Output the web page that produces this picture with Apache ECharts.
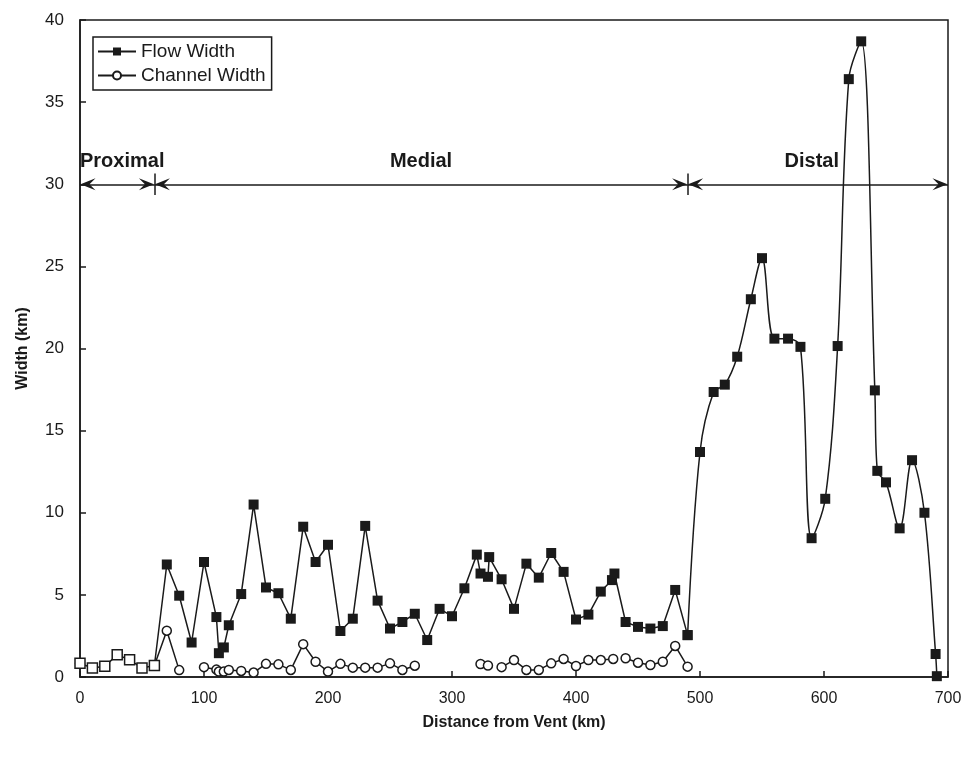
<!DOCTYPE html>
<html>
<head>
<meta charset="utf-8">
<script src="https://cdn.jsdelivr.net/npm/echarts@6/dist/echarts.min.js"></script>
<style>
  html, body { margin: 0; padding: 0; background: #fff; }
  #chart { width: 967px; height: 757px; }
</style>
</head>
<body>
<div id="chart"></div>
<script>
// proximal part of the flow (open squares)
const proximalDist  = [0, 10, 20, 30, 40, 50, 60];
const proximalWidth = [0.83, 0.55, 0.65, 1.35, 1.05, 0.55, 0.7];

// medial part of the flow (straight segments)
const medialDist  = [70, 80, 90, 100, 110, 112, 116, 120, 130, 140,
                     150, 160, 170, 180, 190, 200, 210, 220, 230, 240,
                     250, 260, 270, 280, 290, 300, 310, 320, 323, 329,
                     330, 340, 350, 360, 370, 380, 390, 400, 410, 420,
                     429, 431, 440, 450, 460, 470, 480, 490];
const medialWidth = [6.85, 4.95, 2.1, 7.0, 3.65, 1.45, 1.8, 3.15, 5.05, 10.5,
                     5.45, 5.1, 3.55, 9.15, 7.0, 8.05, 2.8, 3.55, 9.2, 4.65,
                     2.95, 3.35, 3.85, 2.25, 4.15, 3.7, 5.4, 7.45, 6.3, 6.1,
                     7.3, 5.95, 4.15, 6.9, 6.05, 7.55, 6.4, 3.5, 3.8, 5.2,
                     5.9, 6.3, 3.35, 3.05, 2.95, 3.1, 5.3, 2.55];

// distal part of the flow (smoothed)
const distalDist  = [490, 500, 511, 520, 530, 541, 550, 560, 571, 581,
                     590, 601, 611, 620, 630, 641, 643, 650, 661, 671,
                     681, 690, 691];
const distalWidth = [2.55, 13.7, 17.35, 17.8, 19.5, 23.0, 25.5, 20.6, 20.6, 20.1,
                     8.45, 10.85, 20.15, 36.4, 38.7, 17.45, 12.55, 11.85, 9.05, 13.2,
                     10.0, 1.4, 0.05];

// channel width, null = gap in the line
const channelDist  = [0, 30, 60, 70, 80, 90, 100, 110, 112, 116, 120, 130, 140,
                      150, 160, 170, 180, 190, 200, 210, 220, 230, 240, 250, 260, 270,
                      300, 323, 329, 335, 340, 350, 360, 370, 380, 390, 400, 410, 420, 430,
                      435, 440, 450, 460, 470, 480, 490];
const channelWidth = [0.83, null, 0.7, 2.82, 0.42, null, 0.6, 0.45, 0.33, 0.33, 0.43, 0.37, 0.27,
                      0.8, 0.77, 0.43, 2.0, 0.93, 0.33, 0.8, 0.57, 0.57, 0.57, 0.83, 0.43, 0.69,
                      null, 0.79, 0.7, null, 0.6, 1.03, 0.43, 0.43, 0.83, 1.1, 0.67, 1.03, 1.03, 1.1,
                      null, 1.14, 0.87, 0.73, 0.93, 1.89, 0.63];

// zones along the top
const zoneNames = ['Proximal', 'Medial', 'Distal'];
const zoneEdges = [0, 60, 490, 700];
const zoneLabelShift = [5, 0, -6]; // px, nudges the names like in the original
const zoneLevel = 30;

const black = '#1a1a1a';

const chart = echarts.init(document.getElementById('chart'));

// flow data: proximal points are open squares
const flowData = [];
proximalDist.forEach((d, i) => {
    flowData.push({
        value: [d, proximalWidth[i]],
        itemStyle: { color: '#fff', borderColor: black, borderWidth: 1.5 }
    });
});
medialDist.forEach((d, i) => flowData.push([d, medialWidth[i]]));

const distalData = distalDist.map((d, i) => [d, distalWidth[i]]);

const channelData = channelDist.map((d, i) => {
    const w = channelWidth[i];
    if (w === null) return [d, '-'];
    if (d === 60) return { value: [d, w], symbol: 'none' };
    return [d, w];
});

// arrow head with its tip in the middle of the symbol box
// (the tiny piece at the top only pads the box so the tip lands on the end point)
const arrowPath = 'path://M6,16 L12,31 L6,25 L0,31 Z M6,0 L6.01,0.01 Z';
const markData = [];
zoneNames.forEach((name, i) => {
    markData.push([
        { coord: [zoneEdges[i], zoneLevel], name: name, label: { offset: [zoneLabelShift[i], 0] } },
        { coord: [zoneEdges[i + 1], zoneLevel] }
    ]);
});
// small vertical ticks at the inner zone edges
[zoneEdges[1], zoneEdges[2]].forEach(x => {
    markData.push([
        { coord: [x, zoneLevel - 0.65], symbol: 'none', label: { show: false } },
        { coord: [x, zoneLevel + 0.65], symbol: 'none' }
    ]);
});

const option = {
    backgroundColor: '#fff',
    animation: false,
    textStyle: { fontFamily: 'Liberation Sans, Arial, sans-serif', color: black },
    grid: {
        left: 80, right: 19, top: 20, bottom: 80,
        show: true,
        borderColor: black,
        borderWidth: 1.5
    },
    legend: {
        orient: 'vertical',
        left: 93,
        top: 37,
        data: ['Flow Width', 'Channel Width'],
        borderColor: black,
        borderWidth: 1.5,
        padding: [5, 6, 5, 4],
        itemGap: 5,
        itemWidth: 38,
        itemHeight: 10,
        textStyle: { fontSize: 19, color: black, fontFamily: 'Liberation Sans, Arial, sans-serif' }
    },
    xAxis: {
        type: 'value',
        min: 0,
        max: 700,
        interval: 100,
        name: 'Distance from Vent (km)',
        nameLocation: 'middle',
        nameGap: 38,
        nameTextStyle: { fontSize: 16, fontWeight: 'bold', color: black },
        axisLine: { lineStyle: { color: black, width: 1.5 } },
        axisTick: { inside: true, length: 6, lineStyle: { color: black, width: 1.5 } },
        axisLabel: { fontSize: 16, color: black, margin: 14 },
        splitLine: { show: false }
    },
    yAxis: {
        type: 'value',
        min: 0,
        max: 40,
        interval: 5,
        name: 'Width (km)',
        nameLocation: 'middle',
        nameGap: 49,
        nameTextStyle: { fontSize: 16, fontWeight: 'bold', color: black },
        axisLine: { show: true, lineStyle: { color: black, width: 1.5 } },
        axisTick: { show: true, inside: true, length: 6, lineStyle: { color: black, width: 1.5 } },
        axisLabel: { fontSize: 17, color: black, margin: 16 },
        splitLine: { show: false }
    },
    series: [
        {
            name: 'Flow Width',
            type: 'line',
            data: flowData,
            symbol: 'rect',
            symbolSize: 10,
            itemStyle: { color: black },
            lineStyle: { color: black, width: 1.5 },
            z: 3
        },
        {
            name: 'Flow Width',
            type: 'line',
            data: distalData,
            smooth: 0.35,
            symbol: 'rect',
            symbolSize: 10,
            itemStyle: { color: black },
            lineStyle: { color: black, width: 1.5 },
            z: 3
        },
        {
            name: 'Channel Width',
            type: 'line',
            data: channelData,
            symbol: 'circle',
            symbolSize: 9,
            itemStyle: { color: '#fff', borderColor: black, borderWidth: 1.5 },
            lineStyle: { color: black, width: 1.5 },
            z: 2
        },
        {
            name: 'zones',
            type: 'line',
            data: [],
            silent: true,
            markLine: {
                silent: true,
                symbol: [arrowPath, arrowPath],
                symbolSize: [12, 31],
                lineStyle: { color: black, width: 1.5, type: 'solid' },
                label: {
                    show: true,
                    position: 'middle',
                    formatter: '{b}',
                    fontSize: 20,
                    fontWeight: 'bold',
                    color: black,
                    distance: 13
                },
                emphasis: { disabled: true },
                data: markData
            }
        }
    ]
};

chart.setOption(option);
</script>
</body>
</html>
